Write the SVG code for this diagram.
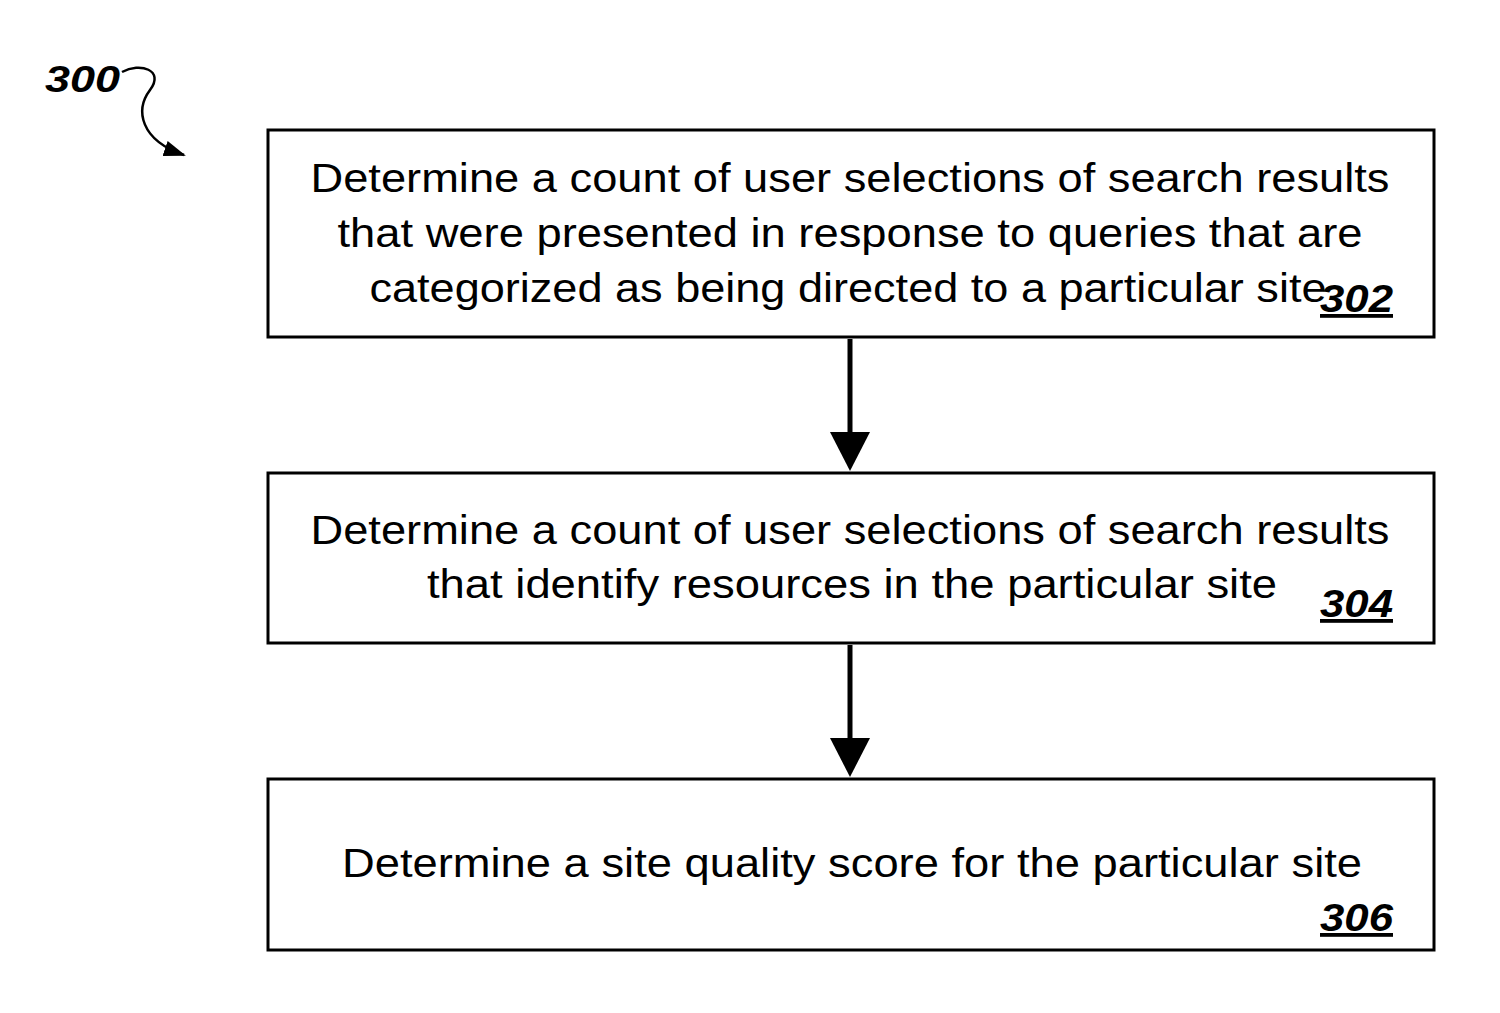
<svg xmlns="http://www.w3.org/2000/svg" width="1500" height="1013" viewBox="0 0 1500 1013">
<style>
.box{fill:#fff;stroke:#000;stroke-width:3}
.t{font-family:"Liberation Sans",Arial,sans-serif;font-size:40px;text-anchor:middle;fill:#000}
.n{font-family:"Liberation Sans",Arial,sans-serif;font-size:38px;font-weight:bold;font-style:italic;text-decoration:underline;text-anchor:end;fill:#000}
.c{stroke:#000;stroke-width:5;fill:none}
</style>
<defs>
<marker id="sh" markerWidth="22" markerHeight="16" refX="20" refY="8" orient="auto" markerUnits="userSpaceOnUse"><path d="M0,0 L22,8 L0,16 z" fill="#000"/></marker>
</defs>
<g id="label300">
<text x="45" y="92" textLength="75" lengthAdjust="spacingAndGlyphs" style="font-family:'Liberation Sans',Arial,sans-serif;font-size:37px;font-weight:bold;font-style:italic">300</text>
<path d="M122,72 C140,62 165,70 150,90 C135,110 140,140 184,155" stroke="#000" stroke-width="2.5" fill="none" marker-end="url(#sh)"/>
</g>
<g id="n302">
<rect class="box" x="268" y="130" width="1166" height="207"/>
<text class="t" x="850" y="192" textLength="1079" lengthAdjust="spacingAndGlyphs">Determine a count of user selections of search results</text>
<text class="t" x="850" y="247" textLength="1025" lengthAdjust="spacingAndGlyphs">that were presented in response to queries that are</text>
<text class="t" x="848" y="302" textLength="957" lengthAdjust="spacingAndGlyphs">categorized as being directed to a particular site</text>
<text class="n" x="1393" y="312" textLength="73" lengthAdjust="spacingAndGlyphs">302</text>
</g>
<g id="n304">
<rect class="box" x="268" y="473" width="1166" height="170"/>
<text class="t" x="850" y="544" textLength="1079" lengthAdjust="spacingAndGlyphs">Determine a count of user selections of search results</text>
<text class="t" x="852" y="598" textLength="850" lengthAdjust="spacingAndGlyphs">that identify resources in the particular site</text>
<text class="n" x="1393" y="617" textLength="73" lengthAdjust="spacingAndGlyphs">304</text>
</g>
<g id="n306">
<rect class="box" x="268" y="779" width="1166" height="171"/>
<text class="t" x="852" y="877" textLength="1020" lengthAdjust="spacingAndGlyphs">Determine a site quality score for the particular site</text>
<text class="n" x="1393" y="931" textLength="73" lengthAdjust="spacingAndGlyphs">306</text>
</g>
<g id="connectors">
<line class="c" x1="850" y1="339" x2="850" y2="440"/>
<path d="M830,432 L870,432 L850,471 z"/>
<line class="c" x1="850" y1="645" x2="850" y2="746"/>
<path d="M830,738 L870,738 L850,777 z"/>
</g>
</svg>
